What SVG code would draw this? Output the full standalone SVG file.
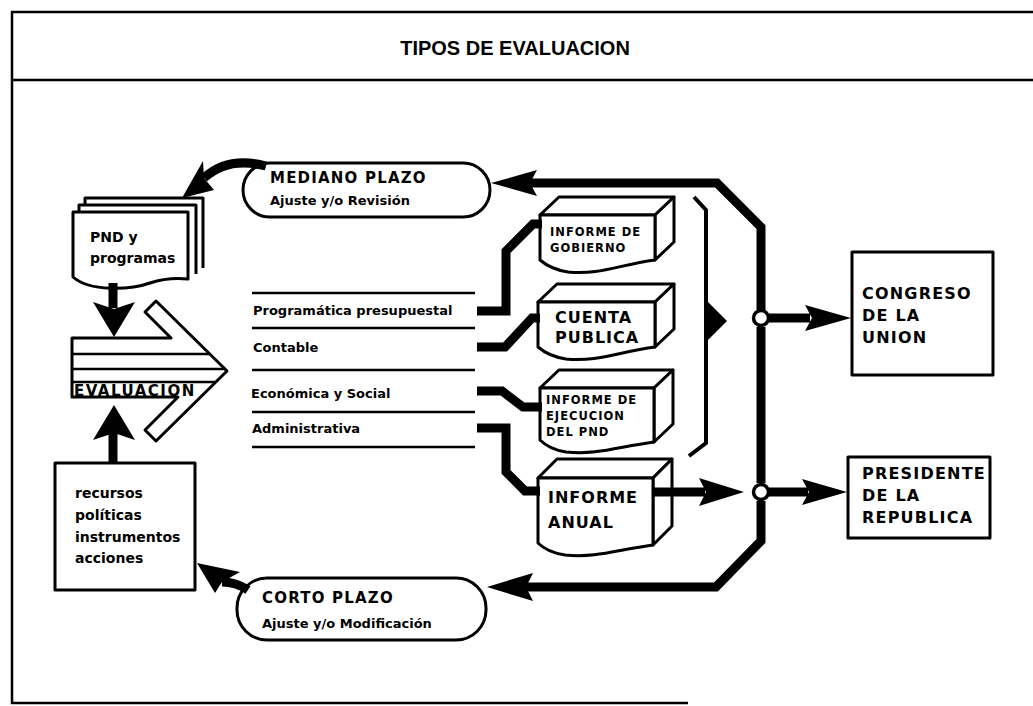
<svg xmlns="http://www.w3.org/2000/svg" width="1033" height="706" viewBox="0 0 1033 706">
<style>
.frame{fill:none;stroke:#000;stroke-width:2.5}
.box{fill:#fff;stroke:#000;stroke-width:3;stroke-linejoin:round}
.t{font-family:"DejaVu Sans","Liberation Sans",sans-serif;font-weight:bold;fill:#000}
.flow{fill:none;stroke:#000;stroke-width:9;stroke-linejoin:miter}
.thin{fill:none;stroke:#000;stroke-width:4}
.head{fill:#000}
.rule{stroke:#000;stroke-width:2.5}
</style>
<rect width="1033" height="706" fill="#fff"/>

<!-- page frame with title band -->
<g id="frame">
  <path class="frame" d="M1033,12 H12 V703 H688 M12,80 H1033"/>
  <text x="515" y="55" text-anchor="middle" font-family="Liberation Sans, Arial, sans-serif" font-weight="bold" font-size="20">TIPOS DE EVALUACION</text>
</g>

<!-- plan documents (stacked pages) -->
<g id="pnd">
  <path class="box" d="M85,205 V198 H203 V268"/>
  <path class="box" d="M79,212 V205 H196 V274"/>
  <path class="box" d="M73,212 H188 V279 C178,278 165,278 150,283 C130,290 90,292 73,277 Z"/>
  <text class="t" font-size="14" x="90" y="242">PND y</text>
  <text class="t" font-size="14" x="90" y="263">programas</text>
</g>

<!-- evaluation chevron -->
<g id="evaluacion">
  <polygon class="box" stroke-width="3.5" points="72,338 171,338 145,312 156,301 227,371 156,441 145,430 178,397 72,397"/>
  <path class="rule" d="M72,354 H209 M72,369 H225 M72,382 H216"/>
  <text class="t" font-size="15" letter-spacing="1.5" x="74" y="396">EVALUACION</text>
</g>

<g id="recursos">
  <rect class="box" x="55" y="463" width="140" height="127"/>
  <text class="t" font-size="14" x="75" y="498">recursos</text>
  <text class="t" font-size="14" x="75" y="520">políticas</text>
  <text class="t" font-size="14" x="75" y="542">instrumentos</text>
  <text class="t" font-size="14" x="75" y="563">acciones</text>
</g>

<g id="mediano">
  <rect class="box" x="243" y="163" width="247" height="54" rx="27"/>
  <text class="t" font-size="15" letter-spacing="1.2" x="270" y="183">MEDIANO PLAZO</text>
  <text class="t" font-size="13" x="270" y="205">Ajuste y/o Revisión</text>
</g>

<g id="corto">
  <rect class="box" x="237" y="578" width="249" height="62" rx="30"/>
  <text class="t" font-size="15" letter-spacing="1.2" x="262" y="603">CORTO PLAZO</text>
  <text class="t" font-size="13" x="262" y="628">Ajuste y/o Modificación</text>
</g>

<!-- evaluation types -->
<g id="tipos">
  <path class="rule" d="M252,293 H475 M252,328 H475 M252,370 H475 M252,412 H475 M252,447 H475"/>
  <text class="t" font-size="13" x="253" y="315">Programática presupuestal</text>
  <text class="t" font-size="13" x="253" y="352">Contable</text>
  <text class="t" font-size="13" x="251" y="398">Económica y Social</text>
  <text class="t" font-size="13" x="252" y="433">Administrativa</text>
</g>

<!-- report boxes -->
<g id="informe-gobierno">
  <path class="box" d="M540,215 L559,197 H674 L655,215 Z"/>
  <path class="box" d="M655,215 L674,197 V242 L655,260 Z"/>
  <path class="box" d="M540,215 H655 V260 C618,265 600,275 568,272 C555,270 547,266 540,260 Z"/>
  <text class="t" font-size="11.5" letter-spacing="1" x="550" y="236">INFORME DE</text>
  <text class="t" font-size="11.5" letter-spacing="1" x="550" y="252">GOBIERNO</text>
</g>

<g id="cuenta-publica">
  <path class="box" d="M538,302 L557,284 H674 L655,302 Z"/>
  <path class="box" d="M655,302 L674,284 V329 L655,347 Z"/>
  <path class="box" d="M538,302 H655 V347 C618,352 598,362 566,359 C553,357 545,353 538,347 Z"/>
  <text class="t" font-size="16" letter-spacing="1" x="555" y="323">CUENTA</text>
  <text class="t" font-size="16" letter-spacing="1" x="555" y="343">PUBLICA</text>
</g>

<g id="informe-ejecucion">
  <path class="box" d="M540,388 L559,370 H673 L654,388 Z"/>
  <path class="box" d="M654,388 L673,370 V424 L654,442 Z"/>
  <path class="box" d="M540,388 H654 V442 C617,447 598,455 566,452 C553,450 546,446 540,440 Z"/>
  <text class="t" font-size="11.5" letter-spacing="1" x="546" y="404">INFORME DE</text>
  <text class="t" font-size="11.5" letter-spacing="1" x="546" y="420">EJECUCION</text>
  <text class="t" font-size="11.5" letter-spacing="1" x="546" y="436">DEL PND</text>
</g>

<g id="informe-anual">
  <path class="box" d="M538,478 L557,459 H672 L653,478 Z"/>
  <path class="box" d="M653,478 L672,459 V526 L653,545 Z"/>
  <path class="box" d="M538,478 H653 V545 C616,550 597,558 565,555 C552,553 544,549 538,543 Z"/>
  <text class="t" font-size="16" letter-spacing="1" x="548" y="503">INFORME</text>
  <text class="t" font-size="16" letter-spacing="1" x="548" y="528">ANUAL</text>
</g>

<g id="congreso">
  <rect class="box" x="852" y="252" width="141" height="123"/>
  <text class="t" font-size="16" letter-spacing="1.2" x="862" y="299">CONGRESO</text>
  <text class="t" font-size="16" letter-spacing="1.2" x="862" y="321">DE LA</text>
  <text class="t" font-size="16" letter-spacing="1.2" x="862" y="343">UNION</text>
</g>

<g id="presidente">
  <rect class="box" x="848" y="457" width="142" height="81"/>
  <text class="t" font-size="16" letter-spacing="1.2" x="862" y="479">PRESIDENTE</text>
  <text class="t" font-size="16" letter-spacing="1.2" x="862" y="501">DE LA</text>
  <text class="t" font-size="16" letter-spacing="1.2" x="862" y="523">REPUBLICA</text>
</g>

<!-- connectors -->
<g id="connectors">
  <!-- feedback loop -->
  <path class="flow" d="M530,183 H717 L761,227 V310"/>
  <path class="flow" d="M761,327 V483"/>
  <path class="flow" d="M761,501 V541 L716,587 H524"/>
  <polygon class="head" points="491,183 537,170 530,183 537,196"/>
  <polygon class="head" points="487,587 533,573 526,587 533,601"/>

  <!-- medium term back to the plan -->
  <path class="flow" d="M266,166 Q228,156 204,178"/>
  <polygon class="head" points="182,198 203,161 204,178 214,190"/>
  <!-- short term back to resources -->
  <path class="flow" d="M248,590 Q236,582 222,582"/>
  <polygon class="head" points="197,563 240,572 222,582 215,593"/>

  <!-- plan into evaluation, resources into evaluation -->
  <path class="flow" stroke-width="11" d="M113,283 V308"/>
  <polygon class="head" points="114,337 93,302 114,309 135,302"/>
  <path class="flow" stroke-width="11" d="M113,463 V432"/>
  <polygon class="head" points="114,405 93,440 114,433 135,440"/>

  <!-- evaluation types to reports -->
  <path class="flow" d="M477,311 H506 V251 L533,224 H542"/>
  <path class="flow" d="M477,347 H505 L532,318 H540"/>
  <path class="flow" d="M477,391 H502 L523,407 H542"/>
  <path class="flow" d="M477,428 H506 V472 L525,491 H540"/>

  <!-- bracket grouping the reports -->
  <path class="thin" d="M694,197 L706,210 V443 L689,456"/>
  <polygon class="head" points="706,300 727,321 706,342"/>

  <!-- distribution nodes -->
  <circle cx="761" cy="318" r="7.5" fill="#fff" stroke="#000" stroke-width="3.5"/>
  <circle cx="761" cy="492" r="7.5" fill="#fff" stroke="#000" stroke-width="3.5"/>
  <path class="flow" stroke-width="8" d="M769,318 H810"/>
  <polygon class="head" points="851,318 805,305 812,318 805,331"/>
  <path class="flow" stroke-width="8" d="M653,492 H705"/>
  <polygon class="head" points="744,492 699,478 706,492 699,506"/>
  <path class="flow" stroke-width="8" d="M769,492 H808"/>
  <polygon class="head" points="847,492 802,479 809,492 802,505"/>
</g>
</svg>
